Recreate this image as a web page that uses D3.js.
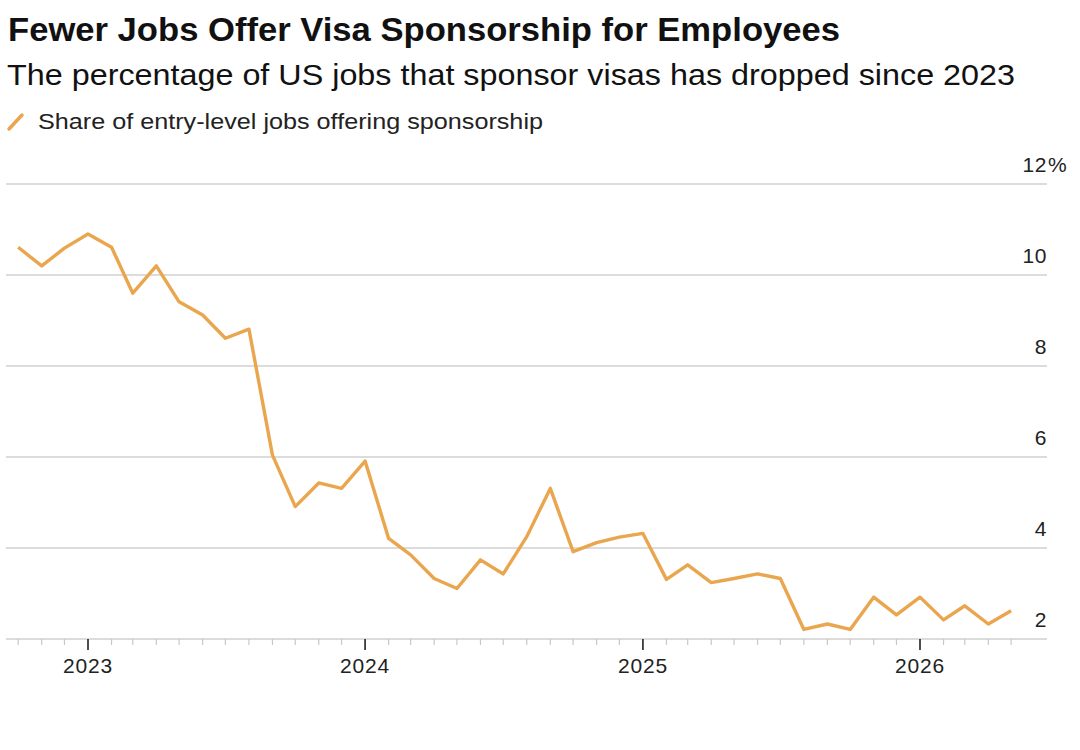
<!DOCTYPE html>
<html>
<head>
<meta charset="utf-8">
<script src="https://cdn.jsdelivr.net/npm/d3@7"></script>
<style>
  body { margin: 0; background: #fff; }
  svg { font-family: "Liberation Sans", Arial, sans-serif; }
</style>
</head>
<body>
<svg id="chart" width="1080" height="750"></svg>
<script>
// monthly data, Oct 2022 .. May 2026
const startMonth = new Date(2022, 9, 1);
const shareValues = [
  10.61, 10.2, 10.59,
  10.9, 10.61, 9.6, 10.2, 9.41, 9.12, 8.61, 8.81, 6.04, 4.91, 5.43, 5.31,
  5.91, 4.21, 3.85, 3.33, 3.11, 3.74, 3.43, 4.25, 5.31, 3.92, 4.12, 4.24,
  4.32, 3.31, 3.63, 3.24, 3.33, 3.43, 3.33, 2.21, 2.33, 2.21, 2.92, 2.53,
  2.92, 2.42, 2.73, 2.33, 2.62
];
const yTicks = [2, 4, 6, 8, 10, 12];
const yearTicks = [2023, 2024, 2025, 2026];

const title = "Fewer Jobs Offer Visa Sponsorship for Employees";
const subtitle = "The percentage of US jobs that sponsor visas has dropped since 2023";
const legendLabel = "Share of entry-level jobs offering sponsorship";

const data = shareValues.map((v, i) => ({
  date: d3.timeMonth.offset(startMonth, i),
  value: v
}));

const svg = d3.select("#chart");
const lineColor = "#e9a64e";

// titles (reference glyphs are a bit wider than Liberation, so stretch to width)
svg.append("text").attr("x", 8).attr("y", 41)
  .attr("font-size", 32.5).attr("font-weight", "bold").attr("fill", "#111")
  .attr("textLength", 832).attr("lengthAdjust", "spacingAndGlyphs")
  .text(title);
svg.append("text").attr("x", 7).attr("y", 85)
  .attr("font-size", 30).attr("fill", "#111")
  .attr("textLength", 1008).attr("lengthAdjust", "spacingAndGlyphs")
  .text(subtitle);

// legend
svg.append("line")
  .attr("x1", 9).attr("y1", 129).attr("x2", 22).attr("y2", 115)
  .attr("stroke", lineColor).attr("stroke-width", 3.5).attr("stroke-linecap", "round");
svg.append("text").attr("x", 38).attr("y", 129)
  .attr("font-size", 22).attr("fill", "#222")
  .attr("textLength", 505).attr("lengthAdjust", "spacingAndGlyphs")
  .text(legendLabel);

const left = 6, right = 1047;

// Jan 2023 -> 88, Jan 2026 -> 920
const x = d3.scaleTime()
  .domain([new Date(2023, 0, 1), new Date(2026, 0, 1)])
  .range([88, 920]);

const y = d3.scaleLinear().domain([2, 12]).range([639, 184]);

// gridlines
svg.append("g")
  .selectAll("line")
  .data(yTicks)
  .join("line")
  .attr("x1", left).attr("x2", right)
  .attr("y1", d => y(d)).attr("y2", d => y(d))
  .attr("stroke", "#d0d0d0").attr("stroke-width", 1.6);

// y labels
const yLab = svg.append("g").attr("font-size", 21).attr("fill", "#222");
yLab.selectAll("text")
  .data(yTicks)
  .join("text")
  .attr("x", right)
  .attr("y", d => y(d) - 12)
  .attr("text-anchor", "end")
  .attr("letter-spacing", 0.6)
  .text(d => d);
yLab.append("text")
  .attr("x", right + 1).attr("y", y(12) - 12)
  .text("%");

// x axis ticks
const months = d3.timeMonth.range(new Date(2022, 9, 1), new Date(2026, 5, 1));
svg.append("g")
  .selectAll("line")
  .data(months)
  .join("line")
  .attr("x1", d => x(d)).attr("x2", d => x(d))
  .attr("y1", 639)
  .attr("y2", d => d.getMonth() === 0 ? 650 : 645)
  .attr("stroke", d => d.getMonth() === 0 ? "#222" : "#c8c8c8")
  .attr("stroke-width", d => d.getMonth() === 0 ? 1.6 : 1.2);

svg.append("g").attr("font-size", 21).attr("fill", "#222")
  .selectAll("text")
  .data(yearTicks)
  .join("text")
  .attr("x", d => x(new Date(d, 0, 1)))
  .attr("y", 673)
  .attr("text-anchor", "middle")
  .attr("letter-spacing", 0.8)
  .text(d => d);

// line
const line = d3.line()
  .x(d => x(d.date))
  .y(d => y(d.value));

svg.append("path")
  .datum(data)
  .attr("d", line)
  .attr("fill", "none")
  .attr("stroke", lineColor)
  .attr("stroke-width", 3.4)
  .attr("stroke-linejoin", "round");
</script>
</body>
</html>
